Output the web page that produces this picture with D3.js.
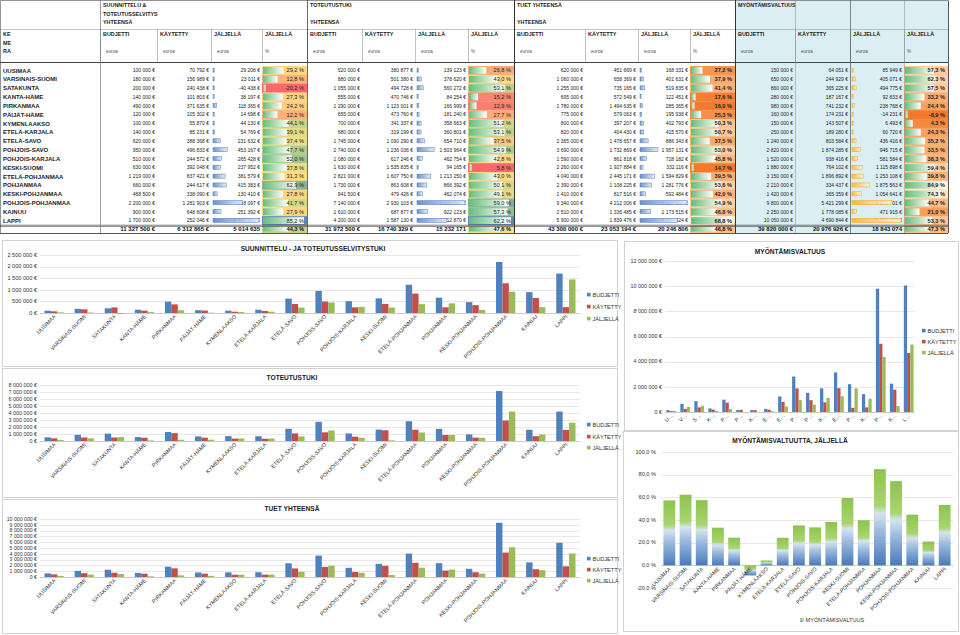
<!DOCTYPE html>
<html><head><meta charset="utf-8">
<script src="https://cdn.jsdelivr.net/npm/d3@7"></script>
<style>body{margin:0;background:#fff}svg{display:block}</style>
</head><body><svg id="c" width="960" height="635"></svg>
<script>
const regions = ["UUSIMAA","VARSINAIS-SUOMI","SATAKUNTA","KANTA-HÄME","PIRKANMAA","PÄIJÄT-HÄME","KYMENLAAKSO","ETELÄ-KARJALA","ETELÄ-SAVO","POHJOIS-SAVO","POHJOIS-KARJALA","KESKI-SUOMI","ETELÄ-POHJANMAA","POHJANMAA","KESKI-POHJANMAA","POHJOIS-POHJANMAA","KAINUU","LAPPI"];
const seriesNames = ["BUDJETTI","KÄYTETTY","JÄLJELLÄ"];
const colHeads = ["BUDJETTI","KÄYTETTY","JÄLJELLÄ","JÄLJELLÄ"];
const colUnits = ["euroa","euroa","euroa","%"];
const rowHead = ["KE","ME","RA"];

const ssTitle = ["SUUNNITTELU &","TOTEUTUSSELVITYS","YHTEENSÄ"];
const ssBudget = [100000,180000,200000,140000,490000,120000,100000,140000,620000,950000,510000,630000,1219000,660000,468500,2200000,900000,1700000];
const ssUsed = [70792,156989,240438,101803,371635,105302,55870,85231,388368,496833,244572,392048,837421,244617,338090,1281903,648608,252346];
const ssLeft = [29208,23011,-40438,38197,118365,14698,44130,54769,231632,453167,265428,237952,381579,415383,130410,918097,251392,1447654];
const ssPct = [29.2,12.8,-20.2,27.3,24.2,12.2,44.1,39.1,37.4,47.7,52.0,37.8,31.3,62.9,27.8,41.7,27.9,85.2];
const ssTotals = [11327500,6312865,5014635,44.3];

const ttTitle = ["TOTEUTUSTUKI","","YHTEENSÄ"];
const ttBudget = [520000,880000,1055000,555000,1290000,655000,700000,680000,1745000,2740000,1080000,1630000,2821000,1730000,941500,7140000,1610000,4200000];
const ttUsed = [380877,501380,494728,470746,1123001,473760,341337,319199,1090290,1236036,617246,1535835,1607750,863608,479426,2930103,687877,1587130];
const ttLeft = [139123,378620,560272,84254,166999,181240,358663,360801,654710,1503964,462754,94165,1213250,866392,462074,4209897,922123,2612870];
const ttPct = [26.8,43.0,53.1,15.2,12.9,27.7,51.2,53.1,37.5,54.9,42.8,5.8,43.0,50.1,49.1,59.0,57.3,62.2];
const ttTotals = [31972500,16740329,15232171,47.6];

const tyTitle = ["TUET YHTEENSÄ","","YHTEENSÄ"];
const tyBudget = [620000,1060000,1255000,695000,1780000,775000,800000,820000,2365000,3690000,1590000,2260000,4040000,2390000,1410000,9340000,2510000,5900000];
const tyUsed = [451669,658369,735165,572549,1494635,579063,397207,404430,1478657,1732869,861818,1927884,2445171,1108225,817516,4212006,1336485,1839476];
const tyLeft = [168331,401631,519835,122451,285365,195938,402793,415570,886343,1957131,728182,332116,1594829,1281776,592484,5127994,1173515,4060524];
const tyPct = [27.2,37.9,41.4,17.6,16.0,25.3,50.3,50.7,37.5,53.0,45.8,14.7,39.5,53.6,42.0,54.9,46.8,68.8];
const tyTotals = [43300000,23053194,20246806,46.8];

const mvTitle = ["MYÖNTÄMISVALTUUS"];
const mvBudget = [150000,650000,860000,280000,980000,160000,150000,250000,1240000,2820000,1520000,1880000,3150000,2210000,1420000,9800000,2250000,10050000];
const mvUsed = [64051,244929,365225,187167,741232,174231,143507,189280,803584,1874285,938416,764102,1896892,334437,365359,5421299,1778085,4690844];
const mvLeft = [85949,405071,494775,92833,238768,-14231,6493,60720,436416,945715,581584,1115898,1253108,1875563,1054641,4378701,471915,5359156];
const mvPct = [57.3,62.3,57.5,33.2,24.4,-8.9,4.3,24.3,35.2,33.5,38.3,59.4,39.8,84.9,74.3,44.7,21.0,53.3];
const mvTotals = [39820000,20976926,18843074,47.3];

const chartTitles = ["SUUNNITTELU - JA TOTEUTUSSELVITYSTUKI","TOTEUTUSTUKI","TUET YHTEENSÄ","MYÖNTÄMISVALTUUS","MYÖNTÄMISVALTUUTTA, JÄLJELLÄ"];
const ticks1 = [0,500000,1000000,1500000,2000000,2500000];
const ticks2 = [0,1000000,2000000,3000000,4000000,5000000,6000000,7000000,8000000];
const ticks3 = [0,1000000,2000000,3000000,4000000,5000000,6000000,7000000,8000000,9000000,10000000];
const ticks4 = [0,2000000,4000000,6000000,8000000,10000000,12000000];
const ticks5 = [-20,0,20,40,60,80,100];

const seriesColors = ["#4f81bd","#c0504d","#9bbb59"];

const loc = d3.formatLocale({decimal:",",thousands:"\u00a0",grouping:[3],currency:["",""],minus:"-"});
const fInt = loc.format(",.0f");
const fEur = v => fInt(v) + "\u00a0€";
const fPct = v => loc.format(".1f")(v) + "\u00a0%";

const svg = d3.select("#c");
svg.append("rect").attr("width",960).attr("height",635).attr("fill","#fff");
const defs = svg.append("defs");
function grad(id, stops, vertical){
  const g = defs.append("linearGradient").attr("id",id).attr("x1",0).attr("y1",0).attr("x2",vertical?0:1).attr("y2",vertical?1:0);
  stops.forEach(s=>g.append("stop").attr("offset",s[0]).attr("stop-color",s[1]));
}
grad("dbBlue",[[0,"#5b87c5"],[1,"#e4ecf7"]]);
grad("dbGreen",[[0,"#63be7b"],[1,"#ffffff"]]);
grad("dbOrange",[[0,"#ffb628"],[1,"#fff4dc"]]);
grad("mvGrad",[[0,"#8cc44e"],[0.38,"#aad470"],[0.46,"#d6e3f0"],[0.62,"#a4c0e1"],[1,"#477ab9"]],true);

const TF = "'Liberation Sans', Arial, sans-serif";
const CF = "'Liberation Sans Narrow', 'Liberation Sans', Arial, sans-serif";

// ---------------- TABLE ----------------
const headMid = 29, headBot = 62, rowsTop = 66, rowsBot = 225, tableBot = 233, tableRight = 948;
const yRow = d3.scaleBand().domain(regions).range([rowsTop, rowsBot]);
const bw = yRow.bandwidth();

const sections = [
  {title:ssTitle, e:[100,157,211,262,307], v:[ssBudget,ssUsed,ssLeft,ssPct], t:ssTotals, kind:"ryg", bar:"dbBlue", barStroke:"#4f7bbd"},
  {title:ttTitle, e:[307,362,415,468,514], v:[ttBudget,ttUsed,ttLeft,ttPct], t:ttTotals, kind:"ryg", bar:"dbBlue", barStroke:"#4f7bbd"},
  {title:tyTitle, e:[514,585,638,690,735], v:[tyBudget,tyUsed,tyLeft,tyPct], t:tyTotals, kind:"org", bar:"dbBlue", barStroke:"#4f7bbd"},
  {title:mvTitle, e:[735,795,850,904,948], v:[mvBudget,mvUsed,mvLeft,mvPct], t:mvTotals, kind:"org", bar:"dbOrange", barStroke:"#f0a21e"}
];

const tbl = svg.append("g");
tbl.append("rect").attr("x",735).attr("y",0).attr("width",213).attr("height",headBot).attr("fill","#dbeef4");
tbl.append("rect").attr("x",735).attr("y",headBot).attr("width",169).attr("height",tableBot-headBot).attr("fill","#dbeef4");

sections.forEach(sec=>{
  const e = sec.e, g = tbl.append("g");
  const pct = sec.v[3];
  const sorted = pct.slice().sort(d3.ascending);
  const color = sec.kind==="ryg"
    ? d3.scaleLinear().domain([sorted[0], d3.quantile(sorted,0.5), d3.quantile(sorted,0.86), sorted[sorted.length-1]]).range(["#f8696b","#ffe386","#a3c98c","#5f86ba"]).clamp(true)
    : d3.scaleLinear().domain([sorted[0], d3.quantile(sorted,0.5), sorted[sorted.length-1]]).range(["#f4792c","#fbb478","#fff0d0"]).clamp(true);
  g.selectAll("rect.pbg").data(regions).join("rect")
    .attr("x",e[3]).attr("y",d=>yRow(d)).attr("width",e[4]-e[3]).attr("height",bw+0.3)
    .attr("fill",(d,i)=>color(pct[i]));
  g.append("rect").attr("x",e[3]).attr("y",rowsBot).attr("width",e[4]-e[3]).attr("height",tableBot-rowsBot).attr("fill",color(sec.t[3]));
  const pw = d3.scaleLinear().domain([sorted[0], sorted[sorted.length-1]]).range([2.5, e[4]-e[3]-4]);
  g.selectAll("rect.pbar").data(regions).join("rect")
    .attr("x",e[3]+1).attr("y",d=>yRow(d)+1).attr("width",(d,i)=>pw(pct[i])).attr("height",bw-2)
    .attr("fill","url(#dbGreen)");
  g.append("rect").attr("x",e[3]+1).attr("y",rowsBot+1.5).attr("width",pw(sec.t[3])).attr("height",tableBot-rowsBot-3).attr("fill","url(#dbGreen)");
  [0,1,2].forEach(c=>{
    g.selectAll("text.n"+c).data(regions).join("text")
      .attr("x",e[c+1]-2).attr("y",d=>yRow(d)+bw/2+1.8)
      .attr("text-anchor","end").attr("font-family",TF).attr("font-size",5).attr("fill","#222")
      .text((d,i)=>fEur(sec.v[c][i]));
  });
  // remaining (jäljellä) data bars drawn over the text, as in the sheet
  const left = sec.v[2];
  const lw = d3.scaleLinear().domain([0, d3.max(left)]).range([0, e[3]-e[2]-5]);
  g.selectAll("rect.lbar").data(regions).join("rect")
    .attr("x",e[2]+2).attr("y",d=>yRow(d)+bw*0.24).attr("width",(d,i)=>Math.max(1.2,lw(left[i]))).attr("height",bw*0.46)
    .attr("fill",`url(#${sec.bar})`).attr("fill-opacity",0.9).attr("stroke",sec.barStroke).attr("stroke-width",0.5);
  g.selectAll("text.p").data(regions).join("text")
    .attr("x",e[4]-3).attr("y",d=>yRow(d)+bw/2+2)
    .attr("text-anchor","end").attr("font-family",TF).attr("font-size",5.6).attr("fill","#222")
    .attr("font-weight",sec.kind==="org"?"bold":"normal")
    .text((d,i)=>fPct(pct[i]));
  const tt = [fEur(sec.t[0]), fEur(sec.t[1]), fInt(sec.t[2]), fPct(sec.t[3])];
  tt.forEach((s,c)=>{
    g.append("text").attr("x",e[c+1]-(c===3?3:2)).attr("y",rowsBot+6.3).attr("text-anchor","end")
      .attr("font-family",TF).attr("font-size",c===3?5.6:6).attr("font-weight","bold").attr("fill","#111").text(s);
  });
  sec.title.forEach((s,k)=>{
    g.append("text").attr("x",e[0]+3).attr("y",7+k*8.6).attr("font-family",TF).attr("font-size",5.4).attr("font-weight","bold").attr("fill","#222").text(s);
  });
  colHeads.forEach((s,k)=>{
    g.append("text").attr("x",e[k]+3).attr("y",36).attr("font-family",TF).attr("font-size",5.4).attr("font-weight","bold").attr("fill","#222").text(s);
    g.append("text").attr("x",e[k]+(k===3?3:6)).attr("y",53).attr("font-family",TF).attr("font-size",4.6).attr("fill","#555").text(colUnits[k]);
  });
  e.forEach(x=>{
    g.append("line").attr("x1",x+0.5).attr("x2",x+0.5).attr("y1",headMid).attr("y2",headBot).attr("stroke","#9a9a9a").attr("stroke-width",0.6);
  });
});
tbl.selectAll("text.lab").data(regions).join("text")
  .attr("x",3).attr("y",d=>yRow(d)+bw/2+2.2)
  .attr("font-family",TF).attr("font-size",6).attr("font-weight","bold").attr("fill","#222").text(d=>d);
rowHead.forEach((s,k)=>{
  tbl.append("text").attr("x",3).attr("y",36+k*8.5).attr("font-family",TF).attr("font-size",5.4).attr("font-weight","bold").attr("fill","#222").text(s);
});
const L = (x1,y1,x2,y2,c,w)=>tbl.append("line").attr("x1",x1).attr("y1",y1).attr("x2",x2).attr("y2",y2).attr("stroke",c).attr("stroke-width",w);
L(0.5,0.5,tableRight,0.5,"#777",0.8);
L(0.5,0.5,0.5,tableBot,"#777",0.8);
L(tableRight+0.5,0.5,tableRight+0.5,tableBot,"#555",1);
L(0,headMid+0.5,tableRight,headMid+0.5,"#9a9a9a",0.6);
L(0,headBot+0.5,tableRight,headBot+0.5,"#444",1);
L(0,rowsBot+0.2,tableRight,rowsBot+0.2,"#333",0.6);
L(0,rowsBot+1.4,tableRight,rowsBot+1.4,"#333",0.6);
L(0,tableBot+0.5,tableRight,tableBot+0.5,"#555",1);
[[100,"#777",0.7],[307,"#444",0.8],[514,"#333",1],[735,"#333",1],[795,"#888",0.5],[850,"#555",0.7],[904,"#888",0.5]].forEach(([x,c,w])=>{
  L(x+0.5,0,x+0.5,tableBot,c,w);
});

// ---------------- GROUPED BAR CHARTS ----------------
function barChart(o){
  const g = svg.append("g");
  g.append("rect").attr("x",o.frame[0]+0.5).attr("y",o.frame[1]+0.5).attr("width",o.frame[2]-o.frame[0]).attr("height",o.frame[3]-o.frame[1])
    .attr("fill","#fff").attr("stroke","#c8c8c8").attr("stroke-width",0.8);
  g.append("text").attr("x",o.titleX).attr("y",o.titleY).attr("text-anchor","middle").attr("font-family",CF)
    .attr("font-size",6.6).attr("font-weight","bold").attr("fill","#222").text(o.title);
  const y = d3.scaleLinear().domain(d3.extent(o.ticks)).range([o.y0,o.y1]);
  const x = d3.scaleBand().domain(regions).range([o.x0,o.x1]).paddingInner(o.padI).paddingOuter(o.padO);
  const xs = d3.scaleBand().domain([0,1,2]).range([0,x.bandwidth()]);
  o.ticks.forEach(t=>{
    g.append("line").attr("x1",o.x0).attr("x2",o.x1).attr("y1",Math.round(y(t))+0.5).attr("y2",Math.round(y(t))+0.5)
      .attr("stroke",t===0?"#a6a6a6":"#d9d9d9").attr("stroke-width",0.6);
    g.append("text").attr("x",o.x0-3).attr("y",y(t)+1.8).attr("text-anchor","end").attr("font-family",CF)
      .attr("font-size",o.tickFs).attr("fill","#333").text(fEur(t));
  });
  o.series.forEach((vals,s)=>{
    g.selectAll("rect.s"+s).data(regions).join("rect")
      .attr("x",(d)=>x(d)+xs(s)).attr("width",xs.bandwidth())
      .attr("y",(d,i)=>y(Math.max(0,vals[i]))).attr("height",(d,i)=>Math.abs(y(vals[i])-y(0)))
      .attr("fill",seriesColors[s]);
  });
  g.selectAll("text.cat").data(regions).join("text")
    .attr("transform",d=>`translate(${x(d)+x.bandwidth()/2+2},${o.y0+4}) rotate(-45)`)
    .attr("text-anchor","end").attr("font-family",CF).attr("font-size",o.catFs).attr("fill","#333")
    .text(d=>o.short?d[0]+"…":d);
  seriesNames.forEach((s,k)=>{
    g.append("rect").attr("x",o.legX).attr("y",o.legY[k]-3.2).attr("width",3.6).attr("height",3.6).attr("fill",seriesColors[k]);
    g.append("text").attr("x",o.legX+5.5).attr("y",o.legY[k]+0.6).attr("font-family",CF).attr("font-size",5.6).attr("fill","#333").text(s);
  });
}

barChart({frame:[2,240,617,366], title:chartTitles[0], titleX:313, titleY:251, ticks:ticks1, y0:313, y1:255, x0:40, x1:580, padI:0.36, padO:0.15, tickFs:5.6, catFs:5.4,
  series:[ssBudget,ssUsed,ssLeft], legX:587, legY:[296,308,320]});
barChart({frame:[2,368,617,497], title:chartTitles[1], titleX:292, titleY:380, ticks:ticks2, y0:441, y1:385, x0:40, x1:580, padI:0.36, padO:0.15, tickFs:5.4, catFs:5.4,
  series:[ttBudget,ttUsed,ttLeft], legX:587, legY:[426,438,449]});
barChart({frame:[2,499,617,633], title:chartTitles[2], titleX:292, titleY:511, ticks:ticks3, y0:577, y1:519, x0:40, x1:580, padI:0.36, padO:0.15, tickFs:5.2, catFs:5.4,
  series:[tyBudget,tyUsed,tyLeft], legX:587, legY:[560,571,582]});
barChart({frame:[624,241,958,430], title:chartTitles[3], titleX:790, titleY:254, ticks:ticks4, y0:412, y1:261, x0:665, x1:915, padI:0.3, padO:0.1, tickFs:5.4, catFs:5.4,
  series:[mvBudget,mvUsed,mvLeft], legX:922, legY:[332,343,354], short:true});

// ---------------- PERCENT CHART ----------------
(function(){
  const g = svg.append("g");
  g.append("rect").attr("x",623.5).attr("y",431.5).attr("width",335).attr("height",200).attr("fill","#fff").attr("stroke","#c8c8c8").attr("stroke-width",0.8);
  g.append("text").attr("x",790).attr("y",443).attr("text-anchor","middle").attr("font-family",CF).attr("font-size",6.6).attr("font-weight","bold").attr("fill","#222").text(chartTitles[4]);
  const y = d3.scaleLinear().domain([-20,100]).range([588,452]);
  const x = d3.scaleBand().domain(regions).range([661,953]).paddingInner(0.27).paddingOuter(0.15);
  ticks5.forEach(t=>{
    g.append("line").attr("x1",661).attr("x2",953).attr("y1",Math.round(y(t))+0.5).attr("y2",Math.round(y(t))+0.5)
      .attr("stroke",t===0?"#a6a6a6":"#d9d9d9").attr("stroke-width",0.6);
    g.append("text").attr("x",656).attr("y",y(t)+1.8).attr("text-anchor","end").attr("font-family",CF).attr("font-size",5.6).attr("fill","#333").text(fPct(t));
  });
  g.selectAll("rect.b").data(regions).join("rect")
    .attr("x",d=>x(d)).attr("width",x.bandwidth())
    .attr("y",(d,i)=>y(Math.max(0,mvPct[i]))).attr("height",(d,i)=>Math.abs(y(mvPct[i])-y(0)))
    .attr("fill","url(#mvGrad)");
  g.selectAll("text.cat").data(regions).join("text")
    .attr("transform",d=>`translate(${x(d)+x.bandwidth()/2+2},${y(0)+4}) rotate(-45)`)
    .attr("text-anchor","end").attr("font-family",CF).attr("font-size",5.4).attr("fill","#333").text(d=>d);
  g.append("rect").attr("x",800).attr("y",618).attr("width",3.6).attr("height",3.6).attr("fill","url(#mvGrad)");
  g.append("text").attr("x",805.5).attr("y",621.8).attr("font-family",CF).attr("font-size",5.6).attr("fill","#333").text("MYÖNTÄMISVALTUUS");
})();
</script>
</body></html>
